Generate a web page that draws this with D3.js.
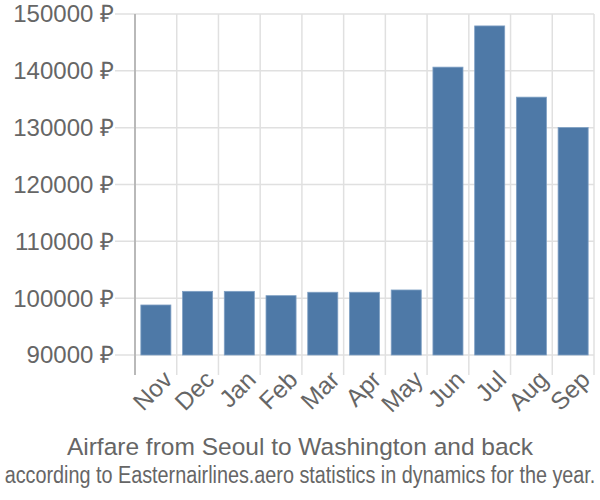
<!DOCTYPE html>
<html><head><meta charset="utf-8">
<script src="https://cdn.jsdelivr.net/npm/d3@7"></script>
<style>body{margin:0;background:#fff}svg{display:block}text{font-family:"Liberation Sans",Arial,sans-serif}</style>
</head><body><svg id="c" width="600" height="500"></svg>
<script>
const months = ["Nov","Dec","Jan","Feb","Mar","Apr","May","Jun","Jul","Aug","Sep"];
const prices = [98800,101200,101200,100440,101040,101040,101440,140650,147900,135370,130020];
const yTicks = [90000,100000,110000,120000,130000,140000,150000];
const title = "Airfare from Seoul to Washington and back";
const subtitle = "according to Easternairlines.aero statistics in dynamics for the year.";

(function(){
const svg = d3.select("#c");
const mL = 135, mR = 594, mT = 14, mB = 355;
const x = d3.scaleBand().domain(months).range([mL, mR]).paddingInner(0.28).paddingOuter(0.14);
const xg = d3.scaleBand().domain(months).range([mL, mR]);
const y = d3.scaleLinear().domain([90000,150000]).range([mB, mT]);

svg.append("g").selectAll("line").data(yTicks).join("line")
  .attr("x1", mL-20).attr("x2", mR).attr("y1", d=>y(d)).attr("y2", d=>y(d))
  .attr("stroke","#e0e0e0").attr("stroke-width",1.5);
const vx = months.map(m=>xg(m)).concat([mR]);
svg.append("g").selectAll("line").data(vx).join("line")
  .attr("x1", d=>d).attr("x2", d=>d).attr("y1", mT).attr("y2", mB+20)
  .attr("stroke","#e0e0e0").attr("stroke-width",1.5);
svg.append("line").attr("x1",mL).attr("x2",mL).attr("y1",mT).attr("y2",mB+20)
  .attr("stroke","#aaa").attr("stroke-width",1.5);

svg.append("g").selectAll("rect").data(prices).join("rect")
  .attr("x",(d,i)=>x(months[i])).attr("width",x.bandwidth())
  .attr("y",d=>y(d)).attr("height",d=>y(90000)-y(d))
  .attr("fill","#4e79a7").attr("stroke","#7fa0c4").attr("stroke-width",0.8);

svg.append("g").selectAll("text").data(yTicks).join("text")
  .attr("x",114).attr("y",d=>y(d)).attr("dy","0.35em").attr("text-anchor","end")
  .attr("fill","#666").attr("font-size",24).text(d=>d+" ₽");

svg.append("g").selectAll("text").data(months).join("text")
  .attr("transform",m=>`translate(${xg(m)+xg.bandwidth()/2+6},${mB+14}) rotate(-45)`)
  .attr("text-anchor","end").attr("dy","0.7em")
  .attr("fill","#666").attr("font-size",24.5).text(d=>d);

svg.append("text").attr("x",300).attr("y",455).attr("text-anchor","middle")
  .attr("fill","#666").attr("font-size",24.5).text(title);
svg.append("text").attr("transform","translate(300,483) scale(1,1.19)").attr("text-anchor","middle")
  .attr("fill","#666").attr("font-size",19.8).text(subtitle);
})();
</script></body></html>
